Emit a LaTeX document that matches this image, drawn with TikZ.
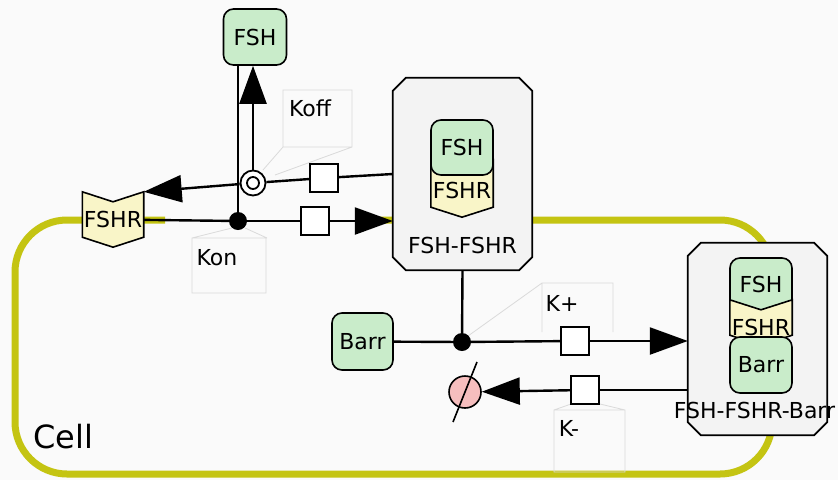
\documentclass[tikz,border=0pt]{standalone}
\usepackage{fontspec}
\setmainfont{DejaVu Sans}
\usetikzlibrary{calc,positioning,arrows.meta}
\definecolor{sbgngreen}{RGB}{201,236,202}
\definecolor{sbgnyellow}{RGB}{249,245,200}
\definecolor{sinkpink}{RGB}{246,190,190}
\definecolor{cellolive}{RGB}{196,196,18}
\definecolor{cplxgray}{RGB}{243,243,243}
\definecolor{bggray}{RGB}{250,250,250}
\definecolor{framegray}{RGB}{218,218,218}

\newcommand{\receptorshape}[1]{%
  \draw[line width=1.6pt,fill=sbgnyellow,line join=miter]
    (#1.north west) -- ($(#1.north)+(0,10)$) -- (#1.north east)
    -- ($(#1.south east)+(0,-10)$) -- (#1.south) -- ($(#1.south west)+(0,-10)$) -- cycle;}
\newcommand{\complexshape}[1]{%
  \draw[line width=1.8pt,fill=cplxgray]
    ($(#1.north west)+(13,0)$) -- ($(#1.north east)+(-13,0)$) -- ($(#1.north east)+(0,13)$)
    -- ($(#1.south east)+(0,-13)$) -- ($(#1.south east)+(-13,0)$) -- ($(#1.south west)+(13,0)$)
    -- ($(#1.south west)+(0,-13)$) -- ($(#1.north west)+(0,13)$) -- cycle;}

\begin{document}
\begin{tikzpicture}[x=1pt,y=-1pt,
    every node/.style={font=\fontsize{22}{26}\selectfont},
    macro/.style={draw,line width=1.6pt,rounded corners=10pt,fill=sbgngreen,
      minimum width=63pt,minimum height=56pt,inner sep=0pt},
    recbox/.style={minimum width=61pt,minimum height=55pt,inner sep=0pt},
    cplx/.style={inner sep=0pt,minimum width=139pt,minimum height=192pt},
    proc/.style={draw,line width=1.6pt,fill=white,minimum size=28pt,inner sep=0pt},
    assoc/.style={circle,fill=black,minimum size=18pt,inner sep=0pt},
    dissoc/.style={circle,draw,line width=1.8pt,fill=white,minimum size=25pt,inner sep=0pt,
      path picture={\draw[line width=1.8pt] (path picture bounding box.center) circle (6pt);}},
    sink/.style={circle,draw,line width=1.6pt,fill=sinkpink,minimum size=32pt,inner sep=0pt},
    arc/.style={line width=2.4pt},
    prod/.style={arc,-{Triangle[length=38pt,width=27pt]}},
    lblframe/.style={framegray,line width=0.8pt}]
  \fill[bggray] (0,0) rectangle (838,480);
  \useasboundingbox (0,0) rectangle (838,480);

  \draw[cellolive,line width=7pt,rounded corners=52pt]
    (372,220) -- (772,220) -- (772,474) -- (15,474) -- (15,220) -- (165,220);
  \node[font=\fontsize{32}{36}\selectfont,anchor=west] (celllbl) at (30,437) {Cell};

  % label frames
  \draw[lblframe] (263,170) -- (283,147) (275,175) -- (352,147)
    (283,90) rectangle (352,147);
  \draw[lblframe] (232,228) -- (192,238) (245,228) -- (267,238)
    (192,238) rectangle (266,293);
  \draw[lblframe] (468,336) -- (542,283) (542,332) -- (542,283) -- (613,283) -- (613,332);
  \draw[lblframe] (571,404) -- (554,410) (600,404) -- (625,410)
    (554,410) rectangle (625,472);

  % species
  \node[macro] (fsh) at (255,37) {FSH};
  \node[recbox] (fshr) at (113,219.5) {};
  \receptorshape{fshr}
  \node (fshrtxt) at (fshr) {FSHR};
  \node[macro,minimum width=61pt,minimum height=57pt] (barr) at (362.5,341.5) {Barr};

  \node[cplx] (fshfshr) at (462.5,174) {};
  \complexshape{fshfshr}
  \node[recbox,minimum width=62pt,minimum height=57pt] (c1r) at (462,188.5) {};
  \receptorshape{c1r}
  \node[macro,minimum width=62pt,minimum height=55pt] (c1fsh) at (462,147.5) {FSH};
  \node (c1rtxt) at (462,190) {FSHR};
  \node (c1lbl) at ($(fshfshr.south)+(0,-25)$) {FSH-FSHR};

  \node[cplx] (fshfshrbarr) at (757.5,339) {};
  \complexshape{fshfshrbarr}
  \node[macro,minimum width=62pt,minimum height=52pt] (c2fsh) at (761,284) {FSH};
  \node[recbox,minimum width=62pt,minimum height=45pt] (c2r) at (761,322.5) {};
  \receptorshape{c2r}
  \node (c2rtxt) at (761,327) {FSHR};
  \node[macro,minimum width=62pt,minimum height=56pt] (c2barr) at (761,365) {Barr};
  \node (c2lbl) at ($(fshfshrbarr.south)+(-3,-25)$) {FSH-FSHR-Barr};

  % processes
  \node[assoc] (kon) at (238,221) {};
  \node[dissoc] (koff) at (253,183) {};
  \node[proc] (pon) at (315,221) {};
  \node[proc] (poff) at (324,178) {};
  \node[assoc] (bind) at (462,342) {};
  \node[proc] (pplus) at (575,341) {};
  \node[proc] (pminus) at (585,390) {};
  \node[sink] (deg) at (465,392) {};
  \draw[line width=1.6pt] ($(deg)+(-12,30)$) -- ($(deg)+(12,-30)$);

  \node (konlbl) at (217,258) {Kon};
  \node (kofflbl) at (310,108) {Koff};
  \node (kpluslbl) at (562,303) {K+};
  \node (kminuslbl) at (569,428) {K-};

  % arcs
  \draw[arc] (fshr) -- (kon);
  \draw[arc] (fsh.south -| kon) -- (kon);
  \draw[arc] (kon) -- (pon);
  \draw[prod] (pon) -- (fshfshr.west |- pon);
  \draw[arc] (fshfshr.west) -- (poff);
  \draw[arc] (poff) -- (koff);
  \draw[prod] (koff) -- (fshr.north east);
  \draw[prod] (koff) -- (koff |- fsh.south);
  \draw[arc] (fshfshr.south) -- (bind);
  \draw[arc] (barr) -- (bind);
  \draw[arc] (bind) -- (pplus);
  \draw[prod] (pplus) -- (fshfshrbarr.west |- pplus);
  \draw[arc] (fshfshrbarr.west |- pminus) -- (pminus);
  \draw[prod] (pminus) -- (deg);
\end{tikzpicture}
\end{document}
